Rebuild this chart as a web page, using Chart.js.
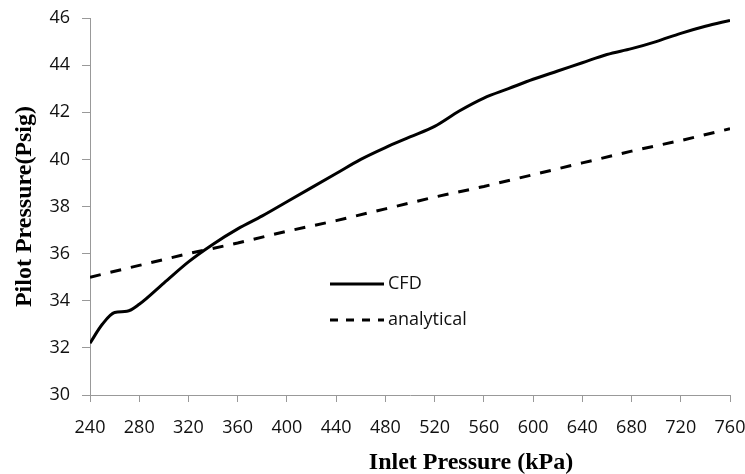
<!DOCTYPE html>
<html>
<head>
<meta charset="utf-8">
<script src="https://cdn.jsdelivr.net/npm/chart.js@4.4.1/dist/chart.umd.min.js"></script>
<style>
  html, body { margin: 0; padding: 0; background: #fff; }
  #wrap { width: 745px; height: 474px; }
</style>
</head>
<body>
<div id="wrap"><canvas id="lineChart"></canvas></div>
<script>
// values
var cfdInlet = [240, 250, 260, 270, 280, 300, 320, 340, 360, 380, 400, 420, 440, 460, 480,
                500, 520, 540, 560, 580, 600, 620, 640, 660, 680, 700, 720, 740, 760];
var cfdPilot = [32.2, 33.0, 33.5, 33.55, 33.85, 34.75, 35.65, 36.4, 37.05, 37.6, 38.2, 38.8, 39.4, 40.0, 40.5,
                40.95, 41.4, 42.05, 42.6, 43.0, 43.4, 43.75, 44.1, 44.45, 44.7, 45.0, 45.35, 45.65, 45.9];

var analyticalInlet = [240, 280, 320, 360, 400, 440, 480, 520, 560, 600, 640, 680, 720, 760];
var analyticalPilot = [35.0, 35.5, 36.0, 36.45, 36.95, 37.4, 37.9, 38.4, 38.85, 39.35, 39.85, 40.35, 40.8, 41.3];

var xTitle = 'Inlet Pressure (kPa)';
var yTitle = 'Pilot Pressure(Psig)';

function toPoints(xs, ys) {
    return xs.map(function(x, i) { return { x: x, y: ys[i] }; });
}

// draws the axis titles and the in-plot legend
var decorations = {
    id: 'decorations',
    afterDraw: function(chart) {
        var ctx = chart.ctx;
        var area = chart.chartArea;
        ctx.save();
        ctx.fillStyle = '#000';
        ctx.font = 'bold 24px "Liberation Serif", "Times New Roman", serif';
        ctx.textAlign = 'center';
        ctx.textBaseline = 'middle';
        ctx.fillText(xTitle, 471, 463);
        ctx.translate(25, (area.top + area.bottom) / 2);
        ctx.rotate(-Math.PI / 2);
        ctx.fillText(yTitle, 0, 0);
        ctx.restore();

        // legend
        var rows = [
            { label: chart.data.datasets[0].label, y: 284, dash: [] },
            { label: chart.data.datasets[1].label, y: 320, dash: [8, 8] }
        ];
        ctx.save();
        rows.forEach(function(r) {
            ctx.strokeStyle = '#000';
            ctx.lineWidth = 3;
            ctx.setLineDash(r.dash);
            ctx.beginPath();
            ctx.moveTo(330, r.y);
            ctx.lineTo(384, r.y);
            ctx.stroke();
            ctx.setLineDash([]);
            ctx.fillStyle = '#111';
            ctx.font = '18px "Open Sans", sans-serif';
            ctx.textAlign = 'left';
            ctx.textBaseline = 'middle';
            ctx.fillText(r.label, 388, r.y);
        });
        ctx.restore();
    }
};

function createChart() {
    var ctx = document.getElementById('lineChart').getContext('2d');
    new Chart(ctx, {
        type: 'line',
        data: {
            datasets: [{
                label: 'CFD',
                data: toPoints(cfdInlet, cfdPilot),
                borderColor: '#000',
                borderWidth: 3,
                pointRadius: 0,
                cubicInterpolationMode: 'monotone'
            }, {
                label: 'analytical',
                data: toPoints(analyticalInlet, analyticalPilot),
                borderColor: '#000',
                borderWidth: 3,
                borderDash: [11, 10],
                pointRadius: 0
            }]
        },
        plugins: [decorations],
        options: {
            responsive: true,
            maintainAspectRatio: false,
            animation: false,
            layout: { padding: { left: 0, right: 15, top: 18, bottom: 0 } },
            plugins: {
                legend: { display: false },
                tooltip: { enabled: false }
            },
            scales: {
                x: {
                    type: 'linear',
                    min: 240,
                    max: 760,
                    afterFit: function(scale) {
                        scale.height = 79;
                        scale.paddingLeft = 0;
                        scale.paddingRight = 0;
                    },
                    ticks: {
                        stepSize: 40,
                        color: '#111',
                        padding: 15,
                        maxRotation: 0,
                        font: { family: '"Open Sans", sans-serif', size: 18 }
                    },
                    grid: {
                        drawOnChartArea: false,
                        tickLength: 7,
                        color: '#999'
                    },
                    border: { color: '#999', width: 1 }
                },
                y: {
                    min: 30,
                    max: 46,
                    afterFit: function(scale) {
                        scale.width = 90;
                        scale.paddingTop = 0;
                        scale.paddingBottom = 0;
                    },
                    ticks: {
                        stepSize: 2,
                        color: '#111',
                        padding: 12,
                        font: { family: '"Open Sans", sans-serif', size: 18 }
                    },
                    grid: {
                        drawOnChartArea: false,
                        tickLength: 8,
                        color: '#999'
                    },
                    border: { color: '#999', width: 1 }
                }
            }
        }
    });
}

document.addEventListener("DOMContentLoaded", createChart);
</script>
</body>
</html>
